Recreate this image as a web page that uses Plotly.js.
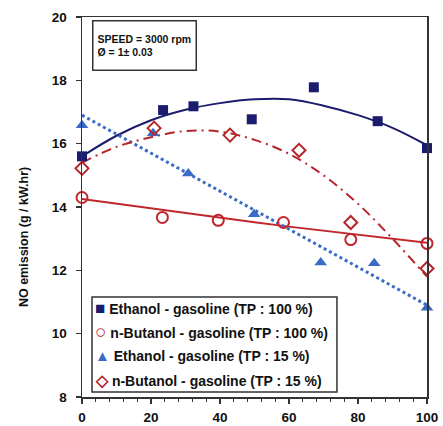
<!DOCTYPE html>
<html>
<head>
<meta charset="utf-8">
<script src="https://cdn.plot.ly/plotly-3.0.1.min.js"></script>
<style>html,body{margin:0;padding:0;background:#fff;}#chart{width:443px;height:426px;}</style>
</head>
<body>
<div id="chart"></div>
<script>
// Measured points
const eth100X = [0, 23.5, 32.3, 49.2, 67.2, 85.7, 100];
const eth100Y = [15.6, 17.06, 17.18, 16.77, 17.78, 16.71, 15.86];
const but100X = [0, 23.3, 39.5, 58.4, 77.9, 100];
const but100Y = [14.3, 13.67, 13.58, 13.51, 12.97, 12.85];
const eth15X = [0, 20.6, 30.8, 49.9, 69.2, 84.7, 100];
const eth15Y = [16.58, 16.33, 15.06, 13.77, 12.25, 12.22, 10.82];
const but15X = [0, 20.9, 42.9, 62.9, 77.9, 100];
const but15Y = [15.22, 16.49, 16.27, 15.79, 13.51, 12.06];

// Trend lines
const trendX = [0, 10, 20, 30, 40, 50, 60, 70, 80, 90, 100];
const eth100Trend = [15.6, 16.25, 16.74, 17.07, 17.28, 17.4, 17.4, 17.2, 16.9, 16.5, 15.95];
const but100Trend = [14.25, 14.1, 13.95, 13.8, 13.66, 13.52, 13.38, 13.25, 13.12, 13.0, 12.87];
const eth15TrendX = [0, 100];
const eth15Trend = [16.9, 10.9];
const but15Trend = [15.4, 15.9, 16.2, 16.4, 16.38, 16.12, 15.68, 15.0, 14.1, 13.0, 11.8];

const names = [
  'Ethanol - gasoline (TP : 100 %)',
  'n-Butanol - gasoline (TP : 100 %)',
  'Ethanol - gasoline (TP : 15 %)',
  'n-Butanol - gasoline (TP : 15 %)'
];
const legendGlyphs = ['■', '○', '▲', '◇'];
const glyphSizes = [17, 19, 15, 16];

const navy = '#1c1c6e', red = '#c0272d', blue = '#3a6cc6', red2 = '#b5262c';
const colors = [navy, red, blue, red2];
const F = 'Liberation Sans, Arial, sans-serif';

const data = [
  {x: trendX, y: eth100Trend, mode: 'lines', line: {color: navy, width: 2, shape: 'spline'}, hoverinfo: 'skip'},
  {x: trendX, y: but100Trend, mode: 'lines', line: {color: red, width: 2}, hoverinfo: 'skip'},
  {x: eth15TrendX, y: eth15Trend, mode: 'lines', line: {color: blue, width: 3, dash: 'dot'}, hoverinfo: 'skip'},
  {x: trendX, y: but15Trend, mode: 'lines', line: {color: red2, width: 2, dash: '10px,5px,2px,5px', shape: 'spline'}, hoverinfo: 'skip'},
  {x: eth100X, y: eth100Y, name: names[0], mode: 'markers', cliponaxis: false,
   marker: {symbol: 'square', size: 10, color: navy}},
  {x: but100X, y: but100Y, name: names[1], mode: 'markers', cliponaxis: false,
   marker: {symbol: 'circle-open', size: 11, color: red, line: {width: 2, color: red}}},
  {x: eth15X, y: eth15Y, name: names[2], mode: 'markers', cliponaxis: false,
   marker: {symbol: 'triangle-up', size: 11, color: blue}},
  {x: but15X, y: but15Y, name: names[3], mode: 'markers', cliponaxis: false,
   marker: {symbol: 'diamond-open', size: 10, color: red2, line: {width: 2, color: red2}}}
];

// manual legend (text entries with coloured glyphs)
const legendY = [0.2316, 0.1711, 0.1079, 0.0447];
const legendAnns = names.map((n, i) => ({
  xref: 'paper', yref: 'paper', x: 0.031, y: legendY[i], xanchor: 'left', yanchor: 'middle',
  showarrow: false, align: 'left',
  text: '<span style="color:' + colors[i] + ';font-size:' + glyphSizes[i] + 'px">' + legendGlyphs[i] + '</span> ' + n,
  font: {family: F, size: 14, weight: 'bold', color: '#111'}
}));

const layout = {
  width: 443, height: 426,
  margin: {l: 82, r: 16, t: 17, b: 29},
  paper_bgcolor: '#fff', plot_bgcolor: '#fff',
  showlegend: false,
  font: {family: F, color: '#111', size: 12, weight: 'bold'},
  xaxis: {
    range: [0, 100], dtick: 20, showgrid: false, zeroline: false,
    showline: true, linecolor: '#333', linewidth: 1.5, mirror: true,
    ticks: 'outside', ticklen: 5, tickwidth: 1.3, tickcolor: '#333',
    minor: {dtick: 4, ticks: 'outside', ticklen: 3, tickcolor: '#333', tickwidth: 1},
    tickfont: {family: F, size: 13.5, weight: 'bold', color: '#111'},
    ticklabelstandoff: 2
  },
  yaxis: {
    range: [8, 20], dtick: 2, showgrid: false, zeroline: false,
    showline: true, linecolor: '#333', linewidth: 1.5, mirror: true,
    ticks: 'outside', ticklen: 5, tickwidth: 1.3, tickcolor: '#333',
    tickfont: {family: F, size: 13.5, weight: 'bold', color: '#111'},
    ticklabelstandoff: 6
  },
  shapes: [
    {type: 'rect', xref: 'paper', yref: 'paper', x0: 0.029, x1: 0.739, y0: 0.013, y1: 0.263,
     line: {color: '#333', width: 1.5}, fillcolor: '#fff', layer: 'above'}
  ],
  annotations: [
    {xref: 'paper', yref: 'paper', x: 0.029, y: 0.992, xanchor: 'left', yanchor: 'top',
     text: 'SPEED = 3000 rpm<br>Ø = 1± 0.03', align: 'left', showarrow: false,
     font: {family: F, size: 10.5, weight: 'bold', color: '#111'},
     bordercolor: '#333', borderwidth: 1.5, borderpad: 4, bgcolor: '#fff', height: 40},
    {xref: 'paper', yref: 'paper', x: -0.168, y: 0.421, xanchor: 'center', yanchor: 'middle',
     text: 'NO emission (g / kW.hr)', textangle: -90, showarrow: false,
     font: {family: F, size: 12.5, weight: 'bold', color: '#111'}}
  ].concat(legendAnns)
};

Plotly.newPlot('chart', data, layout, {staticPlot: true, displayModeBar: false});
</script>
</body>
</html>
